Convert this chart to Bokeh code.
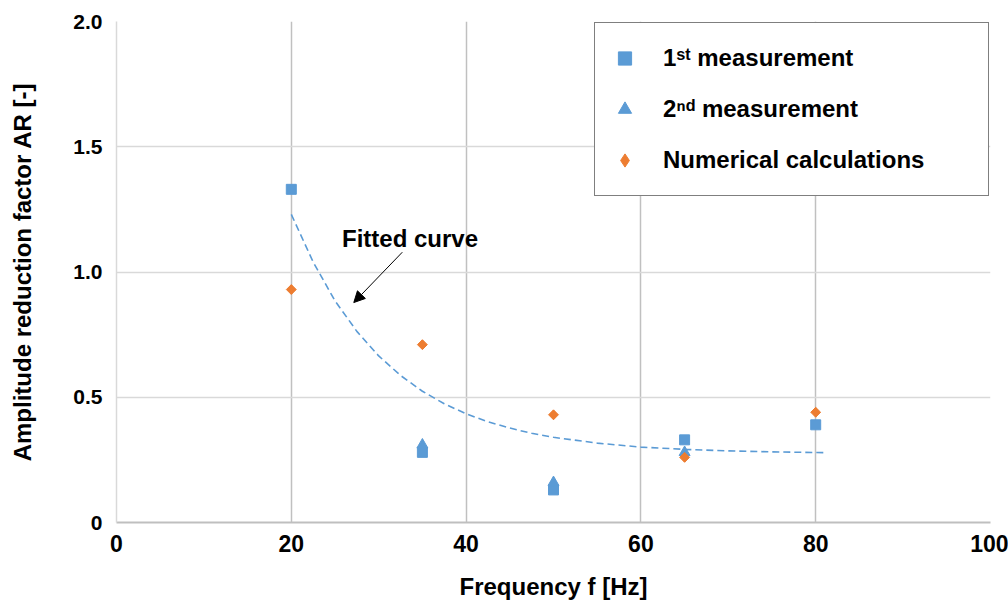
from bokeh.plotting import figure
from bokeh.models import (Range1d, FixedTicker, CustomJSTickFormatter, Legend, LegendItem,
                          Label, Arrow, NormalHead)
from bokeh.embed import file_html
from bokeh.resources import INLINE
import math

# ---------------- data ----------------
freq_1st = [20, 35, 50, 65, 80]
ar_1st = [1.33, 0.28, 0.13, 0.33, 0.39]

freq_2nd = [35, 50, 65]
ar_2nd = [0.31, 0.16, 0.28]

freq_num = [20, 35, 50, 65, 80]
ar_num = [0.93, 0.71, 0.43, 0.26, 0.44]

# fitted curve
fit_freq = [20, 22.5, 25, 27.5, 30, 32.5, 35, 37.5, 40, 42.5, 45, 47.5, 50, 55, 60, 65, 70, 75, 81]
fit_ar = [1.23, 1.04, 0.885, 0.763, 0.665, 0.587, 0.524, 0.474, 0.434, 0.402, 0.377, 0.356,
          0.340, 0.317, 0.301, 0.292, 0.286, 0.282, 0.279]

x_ticks = [0, 20, 40, 60, 80, 100]
y_ticks = [0, 0.5, 1.0, 1.5, 2.0]

label_1st = "1\u02e2\u1d57 measurement"
label_2nd = "2\u207f\u1d48 measurement"
label_num = "Numerical calculations"
x_title = "Frequency f [Hz]"
y_title = "Amplitude reduction factor AR [-]"
annot_text = "Fitted curve"

BLUE = "#5B9BD5"
ORANGE = "#ED7D31"
FONT = "Liberation Sans"

p = figure(width=1008, height=602, output_backend="svg", toolbar_location=None,
           x_range=Range1d(0, 100), y_range=Range1d(0, 2.0),
           min_border_left=116, min_border_right=18, min_border_top=21, min_border_bottom=78)
p.outline_line_color = None
p.background_fill_color = "white"
p.border_fill_color = "white"

# grid
p.xgrid.ticker = FixedTicker(ticks=x_ticks)
p.ygrid.ticker = FixedTicker(ticks=y_ticks)
p.xgrid.grid_line_color = "#C0C0C0"
p.xgrid.grid_line_width = 1.5
p.ygrid.grid_line_color = "#D9D9D9"
p.ygrid.grid_line_width = 1.5

# axes
xa = p.xaxis[0]
ya = p.yaxis[0]
xa.ticker = FixedTicker(ticks=x_ticks)
ya.ticker = FixedTicker(ticks=y_ticks)
ya.formatter = CustomJSTickFormatter(code="return tick == 0 ? '0' : tick.toFixed(1);")
for ax in (xa, ya):
    ax.major_tick_line_color = None
    ax.minor_tick_line_color = None
    ax.major_tick_out = 0
    ax.major_tick_in = 0
    ax.major_label_text_font = FONT
    ax.major_label_text_font_style = "bold"
    ax.major_label_text_color = "black"
    ax.axis_label_text_font = FONT
    ax.axis_label_text_font_style = "bold"
    ax.axis_label_text_font_size = "24px"
    ax.axis_label_text_color = "black"
xa.major_label_text_font_size = "23px"
ya.major_label_text_font_size = "21px"
xa.axis_line_color = "#BFBFBF"
xa.axis_line_width = 2
ya.axis_line_color = "#D9D9D9"
ya.axis_line_width = 1.5
xa.major_label_standoff = 12
ya.major_label_standoff = 14
xa.axis_label = x_title
ya.axis_label = y_title
xa.axis_label_standoff = 18
ya.axis_label_standoff = 34

# fitted curve
p.line(fit_freq, fit_ar, line_color=BLUE, line_width=1.6, line_dash="7 4")

# markers
r1 = p.scatter(freq_1st, ar_1st, marker="square", size=10, fill_color=BLUE, line_color=BLUE)
r2 = p.scatter(freq_2nd, ar_2nd, marker="triangle", size=11, fill_color=BLUE, line_color=BLUE)
# diamond-marker copy (hidden under the rotated squares) used for the legend key,
# because legend keys are never rotated
r3_key = p.scatter(freq_num, ar_num, marker="diamond", size=9, fill_color=ORANGE, line_color=ORANGE)
r3 = p.scatter(freq_num, ar_num, marker="square", size=7, angle=math.pi / 4,
               fill_color=ORANGE, line_color=ORANGE)

legend = Legend(items=[LegendItem(label=label_1st, renderers=[r1]),
                       LegendItem(label=label_2nd, renderers=[r2]),
                       LegendItem(label=label_num, renderers=[r3_key])],
                location="top_right", margin=1, padding=13, spacing=7,
                glyph_width=33, glyph_height=44, label_height=44, label_width=312,
                label_standoff=22, border_line_color="black", border_line_width=1.2,
                label_text_font=FONT, label_text_font_style="bold",
                label_text_font_size="24px", label_text_color="black",
                background_fill_alpha=1.0)
p.add_layout(legend)

# annotation
annot_x, annot_y = 25.8, 1.133
p.add_layout(Label(x=annot_x, y=annot_y, text=annot_text, text_font=FONT,
                   text_font_style="bold", text_font_size="24px", text_color="black",
                   text_baseline="alphabetic", text_align="left"))
arrow_start = (32.7, 1.079)
arrow_end = (27.15, 0.878)
p.add_layout(Arrow(x_start=arrow_start[0], y_start=arrow_start[1],
                   x_end=arrow_end[0], y_end=arrow_end[1],
                   line_color="black", line_width=1,
                   end=NormalHead(size=11, fill_color="black", line_color="black", line_width=1)))

open("out.html", "w").write(file_html(p, INLINE))
